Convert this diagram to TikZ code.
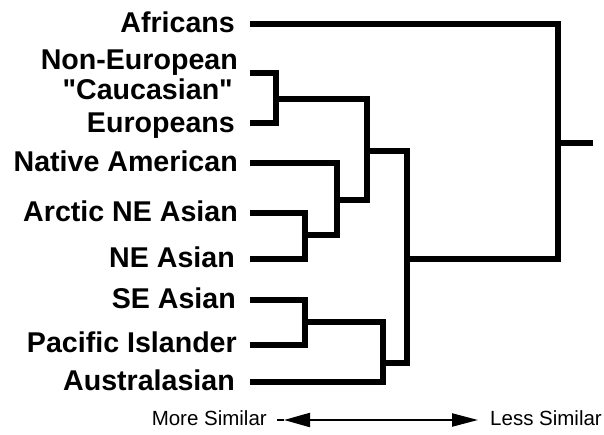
\documentclass[tikz,border=0pt]{standalone}
\usepackage{fontspec}
\newfontfamily\labfont{Liberation Sans}
\usetikzlibrary{arrows.meta}
\tikzset{
  lbl/.style={anchor=base east, inner sep=0pt, font=\labfont\bfseries\fontsize{28.6}{30}\selectfont},
  small/.style={inner sep=0pt, font=\labfont\fontsize{20.5}{22}\selectfont},
  branch/.style={line width=5.5pt, black},
  axis/.style={line width=2.2pt, black},
}
\begin{document}
\begin{tikzpicture}[x=1pt,y=-1pt]
\useasboundingbox (0,0) rectangle (604,435);
% labels
\node[lbl] (tAfr) at (235,33) {Africans};
\node[lbl] (tNE) at (238,70) {Non-European};
\node[lbl] (tCa) at (233,100) {"Caucasian"};
\node[lbl] (tEu) at (235,133) {Europeans};
\node[lbl] (tNA) at (238,172) {Native American};
\node[lbl] (tArc) at (238,222) {Arctic NE Asian};
\node[lbl] (tNEA) at (235,268) {NE Asian};
\node[lbl] (tSE) at (236,308) {SE Asian};
\node[lbl] (tPI) at (237,352) {Pacific Islander};
\node[lbl] (tAus) at (235,390) {Australasian};
% leaf ends
\coordinate (afr) at (250,24);
\coordinate (ne) at (250,73);
\coordinate (eu) at (250,123);
\coordinate (na) at (250,163);
\coordinate (arc) at (250,213);
\coordinate (nea) at (250,259);
\coordinate (se) at (250,300);
\coordinate (pi) at (250,345);
\coordinate (aus) at (250,382);
% junctions
\coordinate (j1) at (276,99);
\coordinate (j4) at (305,235);
\coordinate (j2) at (337,200);
\coordinate (j3) at (367,151);
\coordinate (j6) at (305,322);
\coordinate (j7) at (383,363);
\coordinate (j5) at (407,259);
\coordinate (root) at (558,143);
\coordinate (top) at (593,143);
% tree
\draw[branch] (ne) -| (j1) |- (eu);
\draw[branch] (arc) -| (j4) |- (nea);
\draw[branch] (na) -| (j2) |- (j4);
\draw[branch] (j1) -| (j3) |- (j2);
\draw[branch] (se) -| (j6) |- (pi);
\draw[branch] (j6) -| (j7) |- (aus);
\draw[branch] (j3) -| (j5) |- (j7);
\draw[branch] (afr) -| (root) |- (j5);
\draw[branch] (root) -- (top);
% axis
\node[small, anchor=base east] (more) at (267,425) {More Similar};
\node[small, anchor=base west] (less) at (490,425) {Less Similar};
\coordinate (stub) at (277,420);
\coordinate (al) at (284,420);
\coordinate (ar) at (478,420);
\draw[axis] (stub) -- (al);
\draw[axis, {Triangle[length=26pt,width=14pt]}-{Triangle[length=26pt,width=13pt]}] (al) -- (ar);
\end{tikzpicture}
\end{document}
